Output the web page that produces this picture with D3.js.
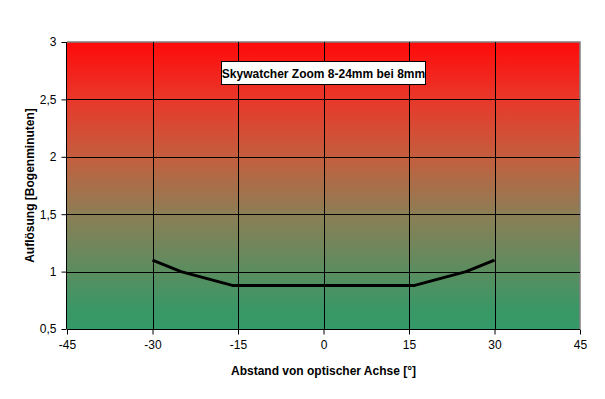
<!DOCTYPE html>
<html><head><meta charset="utf-8">
<script src="https://cdn.jsdelivr.net/npm/d3@7"></script>
<style>body{margin:0;background:#fff}svg{display:block;font-family:"Liberation Sans",Arial,sans-serif}</style>
</head><body><svg id="c" width="605" height="399"></svg>
<script>
const xValues = [-30, -25, -16, 0, 16, 25, 30];
const yValues = [1.1, 1.0, 0.88, 0.88, 0.88, 1.0, 1.1];
const xTicks = [-45, -30, -15, 0, 15, 30, 45];
const yTicks = [0.5, 1, 1.5, 2, 2.5, 3];
const title = "Skywatcher Zoom 8-24mm bei 8mm";
const xTitle = "Abstand von optischer Achse [°]";
const yTitle = "Auflösung [Bogenminuten]";

const svg = d3.select("#c");
const L = 67, R = 580, T = 42, B = 329;
const x = d3.scaleLinear().domain([-45, 45]).range([L, R]);
const y = d3.scaleLinear().domain([0.5, 3]).range([B, T]);

const defs = svg.append("defs");
const g = defs.append("linearGradient").attr("id", "bg").attr("x1", 0).attr("y1", 0).attr("x2", 0).attr("y2", 1);
[[0, "#ff0a0a"], [0.2, "#e8382a"], [0.41, "#c2603f"], [0.6, "#8c7e55"], [0.93, "#3a9766"], [1, "#339966"]]
  .forEach(([o, c]) => g.append("stop").attr("offset", o).attr("stop-color", c));

svg.append("rect").attr("x", L).attr("y", T).attr("width", R - L).attr("height", B - T).attr("fill", "url(#bg)");
svg.append("path").attr("d", `M${L},${T}H${R}V${B}`).attr("fill", "none").attr("stroke", "#808080").attr("stroke-width", 1.5);

// grid
svg.append("g").selectAll("line").data(yTicks.filter(d => d > 0.5 && d < 3)).join("line")
  .attr("x1", L).attr("x2", R).attr("y1", d => Math.round(y(d)) + 0.5).attr("y2", d => Math.round(y(d)) + 0.5)
  .attr("stroke", "#000").attr("stroke-width", 1);
svg.append("g").selectAll("line").data(xTicks.filter(d => d > -45 && d < 45)).join("line")
  .attr("y1", T).attr("y2", B).attr("x1", d => Math.round(x(d)) + 0.5).attr("x2", d => Math.round(x(d)) + 0.5)
  .attr("stroke", "#000").attr("stroke-width", 1);

// axes
const xa = svg.append("g").attr("transform", `translate(0,${B + 0.5})`)
  .call(d3.axisBottom(x).tickValues(xTicks).tickSize(5).tickPadding(6).tickFormat(d => String(d)));
const ya = svg.append("g").attr("transform", `translate(${L - 0.5},0)`)
  .call(d3.axisLeft(y).tickValues(yTicks).tickSize(5).tickPadding(5).tickFormat(d => String(d).replace(".", ",")));
[xa, ya].forEach(a => {
  a.selectAll(".domain").attr("stroke", "#000").attr("stroke-width", 1);
  a.selectAll(".tick line").attr("stroke", "#000");
  a.selectAll("text").attr("fill", "#000").attr("font-size", 12).attr("font-family", "Liberation Sans, Arial, sans-serif");
});
xa.select(".domain").attr("d", `M${L},0H${R}`);
ya.select(".domain").attr("d", `M0,${T}V${B}`);

// line
const pts = xValues.map((v, i) => [v, yValues[i]]);
svg.append("path").datum(pts)
  .attr("d", d3.line().x(d => x(d[0])).y(d => y(d[1])))
  .attr("fill", "none").attr("stroke", "#000").attr("stroke-width", 3).attr("stroke-linejoin", "round");

// title box
const tb = svg.append("g");
tb.append("rect").attr("x", 221.5).attr("y", 61.5).attr("width", 204).attr("height", 23).attr("fill", "#fff").attr("stroke", "#000");
tb.append("text").attr("x", 323.5).attr("y", 77.5).attr("text-anchor", "middle").attr("font-size", 12).attr("font-weight", "bold").text(title);

svg.append("text").attr("x", (L + R) / 2).attr("y", 375).attr("text-anchor", "middle").attr("font-size", 12).attr("font-weight", "bold").text(xTitle);
svg.append("text").attr("transform", `translate(34,${(T + B) / 2}) rotate(-90)`).attr("text-anchor", "middle").attr("font-size", 12).attr("font-weight", "bold").text(yTitle);
</script></body></html>
